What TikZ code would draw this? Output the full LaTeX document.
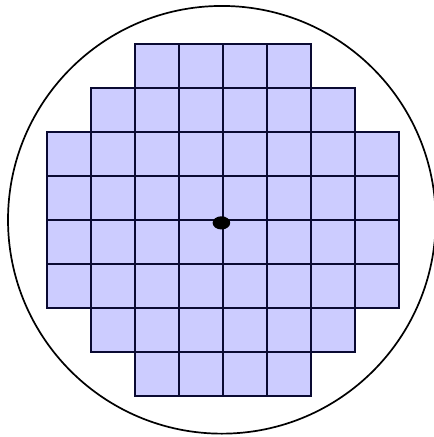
\documentclass[tikz,border=0pt]{standalone}
\usepackage{tikz}
\usetikzlibrary{calc}
\definecolor{diefill}{RGB}{204,204,255}
\definecolor{dieline}{RGB}{10,10,50}
\tikzset{die/.style={fill=diefill,draw=dieline,line width=1.1pt}}

\begin{document}
\begin{tikzpicture}[x=1cm,y=1cm]
  \useasboundingbox (-5.062,-4.936) rectangle (4.79,4.995);
  \draw[line width=1.1pt] (-0.02,0) circle (4.86);
  \foreach \y/\a/\b in {3/-2/1,2/-3/2,1/-4/3,0/-4/3,-1/-4/3,-2/-4/3,-3/-3/2,-4/-2/1}
    \foreach \x in {\a,...,\b}
      \draw[die] (\x,\y) rectangle +(1,1);
  \fill (-0.03,-0.07) ellipse (0.2 and 0.15);
\end{tikzpicture}
\end{document}
